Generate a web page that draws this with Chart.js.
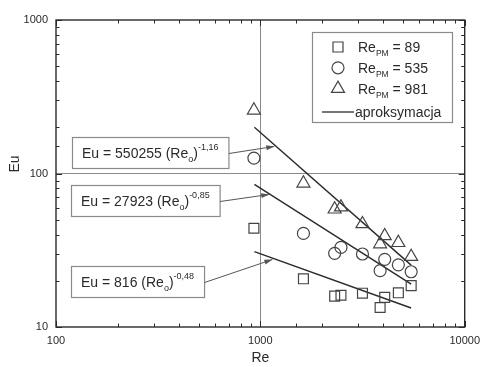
<!DOCTYPE html>
<html>
<head>
<meta charset="utf-8">
<script src="https://cdn.jsdelivr.net/npm/chart.js@4.4.1/dist/chart.umd.min.js"></script>
<style>
  html, body { margin: 0; padding: 0; background: #fff; }
  #wrap { width: 487px; height: 367px; }
</style>
</head>
<body>
<div id="wrap"><canvas id="myChart"></canvas></div>
<script>
// data
const reX = [930, 1625, 2310, 2480, 3160, 3855, 4060, 4735, 5470]
const eu89 = [44, 20.6, 15.9, 16.1, 16.6, 13.4, 15.6, 16.7, 18.6]
const eu535 = [126, 40.7, 30.2, 33.0, 29.9, 23.3, 27.6, 25.4, 22.9]
const eu981 = [258, 86.3, 58.5, 60.3, 46.9, 34.7, 39.2, 35.4, 28.7]
const fitX = [935, 5470]
const fit89 = [31, 13.3]
const fit535 = [85, 19]
const fit981 = [200, 25.3]
const seriesNames = ['89', '535', '981']
const fitName = 'aproksymacja'
const eqCoef = ['550255', '27923', '816']
const eqExp = ['-1,16', '-0,85', '-0,48']
const eqRe = [1170, 1105, 1145]
const eqEu = [150, 73, 27.5]
const xRange = [100, 10000]
const yRange = [10, 1000]

const ink = '#2a2a2a'
const grey = '#8a8a8a'
const font = '"Liberation Sans", Arial, sans-serif'
const styles = ['rect', 'circle', 'triangle']
const radii = [7, 6, 7.5]
const eqBox = [[72, 137], [71, 185], [71, 266]]

Chart.defaults.font.family = font
Chart.defaults.color = ink

function pts(xs, ys) {
  return xs.map((x, i) => ({ x: x, y: ys[i] }))
}

function isPow(v) {
  const l = Math.log10(v)
  return Math.abs(l - Math.round(l)) < 1e-9
}

function rich(c, parts, x, y, draw) {
  let w = 0
  parts.forEach(p => {
    c.font = p[1] + 'px ' + font
    if (draw) c.fillText(p[0], x + w, y + p[2])
    w += c.measureText(p[0]).width
  })
  return w
}

function mark(c, style, x, y) {
  c.beginPath()
  if (style === 'rect') {
    c.rect(x - 5, y - 5, 10, 10)
  } else if (style === 'circle') {
    c.arc(x, y, 6, 0, Math.PI * 2)
  } else {
    c.moveTo(x, y - 7.5)
    c.lineTo(x + 6.5, y + 3.75)
    c.lineTo(x - 6.5, y + 3.75)
    c.closePath()
  }
  c.stroke()
}

const extras = {
  id: 'extras',
  afterDraw(chart) {
    const c = chart.ctx
    const a = chart.chartArea
    const sx = chart.scales.x
    const sy = chart.scales.y
    c.save()

    // frame with inward ticks
    c.strokeStyle = ink
    c.lineWidth = 1.4
    c.strokeRect(a.left, a.top, a.right - a.left, a.bottom - a.top)
    c.lineWidth = 1
    c.beginPath()
    sx.ticks.forEach(t => {
      const px = Math.round(sx.getPixelForValue(t.value)) + 0.5
      const len = isPow(t.value) ? 6 : 3.5
      c.moveTo(px, a.bottom); c.lineTo(px, a.bottom - len)
      c.moveTo(px, a.top); c.lineTo(px, a.top + len)
    })
    sy.ticks.forEach(t => {
      const py = Math.round(sy.getPixelForValue(t.value)) + 0.5
      const len = isPow(t.value) ? 6 : 3.5
      c.moveTo(a.left, py); c.lineTo(a.left + len, py)
      c.moveTo(a.right, py); c.lineTo(a.right - len, py)
    })
    c.stroke()

    // axis titles
    c.fillStyle = ink
    c.font = '14px ' + font
    c.textAlign = 'center'
    c.textBaseline = 'middle'
    c.fillText('Re', (a.left + a.right) / 2, 358)
    c.save()
    c.translate(15, 164)
    c.rotate(-Math.PI / 2)
    c.fillText('Eu', 0, 0)
    c.restore()
    c.textAlign = 'left'
    c.textBaseline = 'alphabetic'

    // equation boxes with leader arrows
    eqCoef.forEach((coef, i) => {
      const parts = [
        ['Eu = ' + coef + ' (Re', 14, 0],
        ['o', 9, 4],
        [')', 14, 0],
        [eqExp[i], 9, -8]
      ]
      const bx = eqBox[i][0], by = eqBox[i][1], bh = 31
      const bw = rich(c, parts, 0, 0, false) + 20
      c.fillStyle = '#fff'
      c.fillRect(bx, by, bw, bh)
      c.strokeStyle = grey
      c.lineWidth = 1.2
      c.strokeRect(bx + 0.5, by + 0.5, bw, bh)
      c.fillStyle = ink
      rich(c, parts, bx + 10, by + bh / 2 + 5.5, true)

      const x0 = bx + bw + 0.5, y0 = by + bh / 2 + 1
      const x1 = sx.getPixelForValue(eqRe[i]), y1 = sy.getPixelForValue(eqEu[i])
      const ang = Math.atan2(y1 - y0, x1 - x0)
      c.strokeStyle = '#555'
      c.lineWidth = 1
      c.beginPath()
      c.moveTo(x0, y0)
      c.lineTo(x1, y1)
      c.stroke()
      c.fillStyle = '#555'
      c.beginPath()
      c.moveTo(x1, y1)
      c.lineTo(x1 - 8 * Math.cos(ang) + 2.5 * Math.sin(ang), y1 - 8 * Math.sin(ang) - 2.5 * Math.cos(ang))
      c.lineTo(x1 - 8 * Math.cos(ang) - 2.5 * Math.sin(ang), y1 - 8 * Math.sin(ang) + 2.5 * Math.cos(ang))
      c.closePath()
      c.fill()
    })

    // legend
    const lx = 312, ly = 32
    c.fillStyle = '#fff'
    c.fillRect(lx, ly, 140, 90)
    c.strokeStyle = grey
    c.lineWidth = 1.2
    c.strokeRect(lx + 0.5, ly + 0.5, 140, 90)
    seriesNames.forEach((n, i) => {
      const yy = ly + 15 + i * 20.8
      c.strokeStyle = '#444'
      c.lineWidth = 1.2
      mark(c, styles[i], lx + 26, yy)
      c.fillStyle = ink
      rich(c, [['Re', 14, 0], ['PM', 8.5, 4], [' = ' + n, 14, 0]], lx + 46, yy + 5, true)
    })
    c.strokeStyle = ink
    c.lineWidth = 1.3
    c.beginPath()
    c.moveTo(lx + 10, ly + 80)
    c.lineTo(lx + 42, ly + 80)
    c.stroke()
    c.fillStyle = ink
    c.font = '14px ' + font
    c.fillText(fitName, lx + 43, ly + 85)

    c.restore()
  }
}

const markerSets = [eu89, eu535, eu981].map((ys, i) => ({
  label: 'Re_PM = ' + seriesNames[i],
  data: pts(reX, ys),
  showLine: false,
  pointStyle: styles[i],
  pointRadius: radii[i],
  pointBorderWidth: 1.2,
  pointBorderColor: '#444',
  pointBackgroundColor: 'rgba(0,0,0,0)'
}))

const fitSets = [fit89, fit535, fit981].map(ys => ({
  label: fitName,
  data: pts(fitX, ys),
  showLine: true,
  borderColor: ink,
  borderWidth: 1.4,
  pointRadius: 0
}))

new Chart(document.getElementById('myChart'), {
  type: 'scatter',
  data: { datasets: markerSets.concat(fitSets) },
  options: {
    responsive: true,
    maintainAspectRatio: false,
    animation: false,
    devicePixelRatio: 1,
    layout: { padding: { top: 20, right: 17, left: 0, bottom: 0 } },
    plugins: { legend: { display: false }, tooltip: { enabled: false } },
    scales: {
      x: {
        type: 'logarithmic',
        min: xRange[0],
        max: xRange[1],
        afterFit: s => { s.height = 40 },
        border: { display: false },
        grid: {
          drawTicks: false,
          color: ctx => (ctx.tick && ctx.tick.value === 1000 ? grey : 'rgba(0,0,0,0)')
        },
        ticks: {
          autoSkip: false,
          maxRotation: 0,
          padding: 7,
          font: { size: 11 },
          color: ink,
          callback: v => (isPow(v) ? String(v) : '')
        }
      },
      y: {
        type: 'logarithmic',
        min: yRange[0],
        max: yRange[1],
        afterFit: s => { s.width = 56 },
        border: { display: false },
        grid: {
          drawTicks: false,
          color: ctx => (ctx.tick && ctx.tick.value === 100 ? grey : 'rgba(0,0,0,0)')
        },
        ticks: {
          autoSkip: false,
          padding: 8,
          font: { size: 11 },
          color: ink,
          callback: v => (isPow(v) ? String(v) : '')
        }
      }
    }
  },
  plugins: [extras]
})
</script>
</body>
</html>
